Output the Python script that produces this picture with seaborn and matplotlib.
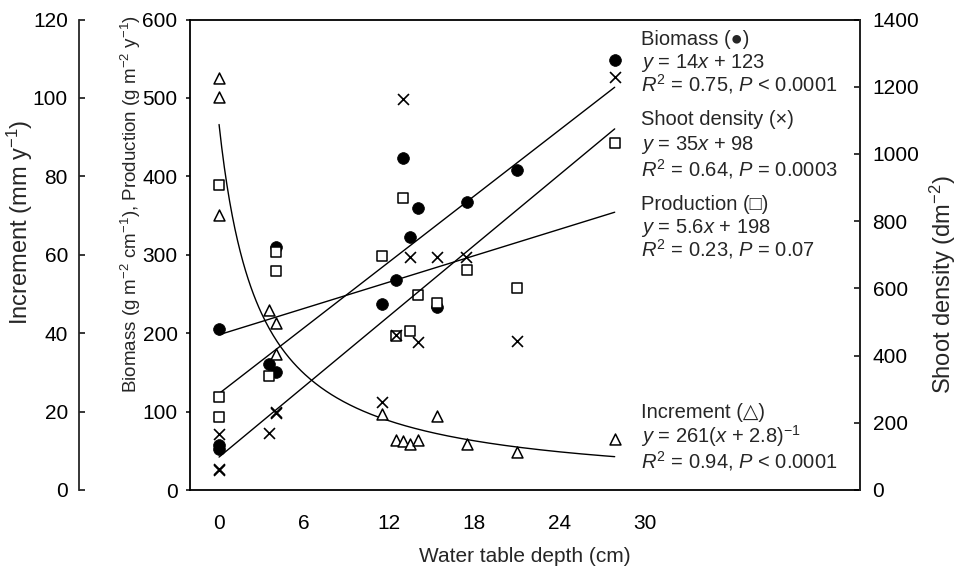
import numpy as np
import pandas as pd
import matplotlib
matplotlib.use("Agg")
import matplotlib.pyplot as plt
import seaborn as sns

sns.set_style("white")
plt.rcParams['font.family'] = ['Liberation Sans', 'DejaVu Sans']
plt.rcParams['mathtext.fontset'] = 'custom'
plt.rcParams['mathtext.rm'] = 'Liberation Sans'
plt.rcParams['mathtext.it'] = 'Liberation Sans:italic'
plt.rcParams['mathtext.bf'] = 'Liberation Sans:bold'

# ---------------- data ----------------
biomass_x = [0, 0, 0, 3.5, 4.0, 4.0, 11.5, 12.5, 13.0, 13.5, 14.0, 15.4, 17.5, 21.0, 27.9]
biomass_y = [205, 57, 52, 161, 310, 150, 237, 268, 423, 322, 359, 233, 367, 408, 548]

production_x = [0, 0, 0, 3.5, 4.0, 4.0, 11.5, 12.5, 13.0, 13.5, 14.0, 15.4, 17.5, 21.0, 27.9]
production_y = [389, 118, 93, 146, 303, 279, 298, 197, 373, 203, 249, 238, 281, 258, 443]

shoot_x = [0, 0, 0, 3.5, 4.0, 4.0, 11.5, 12.5, 13.0, 13.5, 14.0, 15.4, 17.4, 21.0, 27.9]
shoot_y = [167, 63, 60, 169, 232, 228, 262, 460, 1163, 693, 440, 693, 693, 443, 1228]

increment_x = [0, 0, 0, 3.5, 4.0, 4.0, 11.5, 12.5, 13.0, 13.5, 14.0, 15.4, 17.5, 21.0, 27.9]
increment_y = [105, 100.3, 70.1, 46.0, 42.6, 34.8, 19.5, 12.8, 12.5, 11.8, 12.8, 18.8, 11.8, 9.65, 12.9]

# fitted relationships (from the equations printed on the chart)
biomass_fit = [14, 123]        # slope, intercept
shoot_fit = [35, 98]
production_fit = [5.6, 198]
increment_fit = [261, 2.8]     # a, b in y = a/(x+b)
fit_range = [0, 27.9]

x_ticks = [0, 6, 12, 18, 24, 30]
left_ticks = [0, 100, 200, 300, 400, 500, 600]
inc_ticks = [0, 20, 40, 60, 80, 100, 120]
shoot_ticks = [0, 200, 400, 600, 800, 1000, 1200, 1400]

legend_lines = [
    "Biomass (\u25cf)", "$y$ = 14$x$ + 123", "$R^2$ = 0.75, $P$ < 0.0001",
    "Shoot density (\u00d7)", "$y$ = 35$x$ + 98", "$R^2$ = 0.64, $P$ = 0.0003",
    "Production (\u25a1)", "$y$ = 5.6$x$ + 198", "$R^2$ = 0.23, $P$ = 0.07",
    "Increment (\u25b3)", "$y$ = 261($x$ + 2.8)$^{\u22121}$", "$R^2$ = 0.94, $P$ < 0.0001",
]
legend_baselines = [45, 68, 91, 125, 150, 176, 210, 233, 256, 418, 443, 468]

# ---------------- figure ----------------
W, H = 957, 568
fig = plt.figure(figsize=(W / 100, H / 100), dpi=100)
L, R, T, B = 190, 860, 19.5, 490
ax = fig.add_axes([L / W, 1 - B / H, (R - L) / W, (B - T) / H])
ax.set_facecolor('none')
ax_inc = ax.twinx()
ax_sh = ax.twinx()

FS = 15
lw_sp = 1.3

# main axis (biomass / production)
ax.set_xlim(-2.05, 45.2)
ax.set_ylim(0, 600)
for s in ax.spines.values():
    s.set_linewidth(lw_sp)
    s.set_color('black')
ax.set_xticks(x_ticks)
ax.set_xticklabels([str(t) for t in x_ticks], fontsize=FS)
ax.set_yticks(left_ticks)
ax.set_yticklabels([str(t) for t in left_ticks], fontsize=FS)
ax.tick_params(axis='x', direction='in', length=4, width=1.1, pad=17, colors='black')
ax.tick_params(axis='y', direction='out', length=3, width=1.1, pad=6, colors='black')

# increment axis (far left)
ax_inc.set_ylim(0, 120)
for k, s in ax_inc.spines.items():
    s.set_visible(k == 'left')
ax_inc.spines['left'].set_position(('outward', (L - 79) * 0.72))
ax_inc.spines['left'].set_linewidth(lw_sp)
ax_inc.yaxis.set_ticks_position('left')
ax_inc.set_yticks(inc_ticks)
ax_inc.set_yticklabels([str(t) for t in inc_ticks], fontsize=FS)
ax_inc.tick_params(axis='y', direction='in', length=4, width=1.1, pad=8, colors='black')

# shoot density axis (right)
ax_sh.set_ylim(0, 1400)
for k, s in ax_sh.spines.items():
    s.set_visible(k == 'right')
ax_sh.spines['right'].set_linewidth(lw_sp)
ax_sh.set_yticks(shoot_ticks)
ax_sh.set_yticklabels([str(t) for t in shoot_ticks], fontsize=FS)
ax_sh.tick_params(axis='y', direction='in', length=4, width=1.1, pad=9, colors='black')

# ---------- fitted lines ----------
xf = np.linspace(fit_range[0], fit_range[1], 300)
fits = pd.DataFrame({
    'x': xf,
    'biomass': biomass_fit[0] * xf + biomass_fit[1],
    'production': production_fit[0] * xf + production_fit[1],
    'shoot': shoot_fit[0] * xf + shoot_fit[1],
    'increment': increment_fit[0] / (xf + increment_fit[1]),
})
lkw = dict(color='black', linewidth=1.0)
sns.lineplot(data=fits, x='x', y='biomass', ax=ax, **lkw)
sns.lineplot(data=fits, x='x', y='production', ax=ax, **lkw)
sns.lineplot(data=fits, x='x', y='shoot', ax=ax_sh, **lkw)
sns.lineplot(data=fits, x='x', y='increment', ax=ax_inc, **lkw)

# ---------- points ----------
df_b = pd.DataFrame({'x': biomass_x, 'y': biomass_y})
df_p = pd.DataFrame({'x': production_x, 'y': production_y})
df_s = pd.DataFrame({'x': shoot_x, 'y': shoot_y})
df_i = pd.DataFrame({'x': increment_x, 'y': increment_y})

sns.scatterplot(data=df_b, x='x', y='y', ax=ax, marker='o', s=72,
                color='black', edgecolor='black', linewidth=0.5, zorder=3)
sns.scatterplot(data=df_p, x='x', y='y', ax=ax, marker='s', s=55,
                facecolor='white', edgecolor='black', linewidth=1.1, zorder=3)
sns.scatterplot(data=df_s, x='x', y='y', ax=ax_sh, marker='x', s=62,
                color='black', linewidth=1.2, zorder=3)
sns.scatterplot(data=df_i, x='x', y='y', ax=ax_inc, marker='^', s=62,
                facecolor='white', edgecolor='black', linewidth=1.1, zorder=3)

for a in (ax, ax_inc, ax_sh):
    a.set_xlabel('')
    a.set_ylabel('')
ax.set_xlim(-2.05, 45.2)

# ---------- axis labels ----------
def px(x, y):
    return x / W, 1 - y / H

fig.text(*px(525, 557), "Water table depth (cm)", ha='center', va='center', fontsize=FS)
fig.text(*px(20, 222), "Increment (mm y$^{\u22121}$)", ha='center', va='center',
         rotation=90, fontsize=17)
fig.text(*px(131, 204),
         "Biomass (g m$^{\u22122}$ cm$^{\u22121}$), Production (g m$^{\u22122}$ y$^{\u22121}$)",
         ha='center', va='center', rotation=90, fontsize=13.5)
fig.text(*px(943, 285), "Shoot density (dm$^{\u22122}$)", ha='center', va='center',
         rotation=90, fontsize=17)

# ---------- equation legend ----------
for txt, yb in zip(legend_lines, legend_baselines):
    fig.text(*px(641, yb), txt, ha='left', va='baseline', fontsize=14.5)

fig.savefig("out.png", dpi=100)
